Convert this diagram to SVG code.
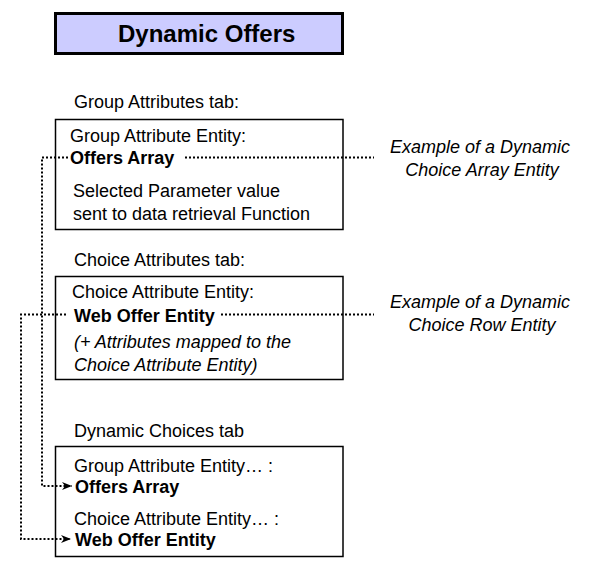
<svg xmlns="http://www.w3.org/2000/svg" width="599" height="573" viewBox="0 0 599 573">
<defs>
<style>
text{font-family:"Liberation Sans",Arial,sans-serif;font-size:18px;fill:#000}
.b{font-weight:bold}
.i{font-style:italic}
.t{font-size:24px;font-weight:bold}
.box{fill:#fff;stroke:#000;stroke-width:1.5}
.dot{fill:none;stroke:#000;stroke-width:2;stroke-dasharray:2 2}
</style>
<marker id="ah" markerWidth="10" markerHeight="8" refX="10" refY="4" orient="auto" markerUnits="userSpaceOnUse">
<path d="M0,0 L10,4 L0,8 L3,4 Z" fill="#000"/>
</marker>
</defs>
<rect width="599" height="573" fill="#fff"/>
<g id="title">
<rect x="55.5" y="13.5" width="287" height="40" fill="#CCCCFF" stroke="#000" stroke-width="3"/>
<text class="t" x="118" y="42">Dynamic Offers</text>
</g>
<g id="group-tab">
<text x="74" y="108">Group Attributes tab:</text>
<rect class="box" x="55.5" y="119.5" width="287.5" height="110"/>
<text x="70" y="142">Group Attribute Entity:</text>
<text class="b" x="70" y="164">Offers Array</text>
<text x="73" y="197">Selected Parameter value</text>
<text x="73" y="220">sent to data retrieval Function</text>
</g>
<g id="choice-tab">
<text x="74" y="266">Choice Attributes tab:</text>
<rect class="box" x="55.5" y="276.5" width="287.5" height="103"/>
<text x="72" y="298">Choice Attribute Entity:</text>
<text class="b" x="74" y="322">Web Offer Entity</text>
<text class="i" x="74" y="348">(+ Attributes mapped to the</text>
<text class="i" x="74" y="371">Choice Attribute Entity)</text>
</g>
<g id="dynamic-tab">
<text x="74" y="437">Dynamic Choices tab</text>
<rect class="box" x="55.5" y="446.5" width="287.5" height="110"/>
<text x="74" y="472">Group Attribute Entity… :</text>
<text class="b" x="75" y="493">Offers Array</text>
<text x="74" y="525">Choice Attribute Entity… :</text>
<text class="b" x="75" y="546">Web Offer Entity</text>
</g>
<g id="note-array">
<text class="i" x="480" y="153" text-anchor="middle">Example of a Dynamic</text>
<text class="i" x="482" y="176" text-anchor="middle">Choice Array Entity</text>
</g>
<g id="note-row">
<text class="i" x="480" y="308" text-anchor="middle">Example of a Dynamic</text>
<text class="i" x="482" y="331" text-anchor="middle">Choice Row Entity</text>
</g>
<g id="connectors">
<path class="dot" d="M185,157.5 H374"/>
<path class="dot" d="M221,314.5 H374"/>
<path class="dot" d="M68,157.5 H42 V486 H72" marker-end="url(#ah)"/>
<path class="dot" d="M66,314.5 H21 V539 H71" marker-end="url(#ah)"/>
</g>
</svg>
